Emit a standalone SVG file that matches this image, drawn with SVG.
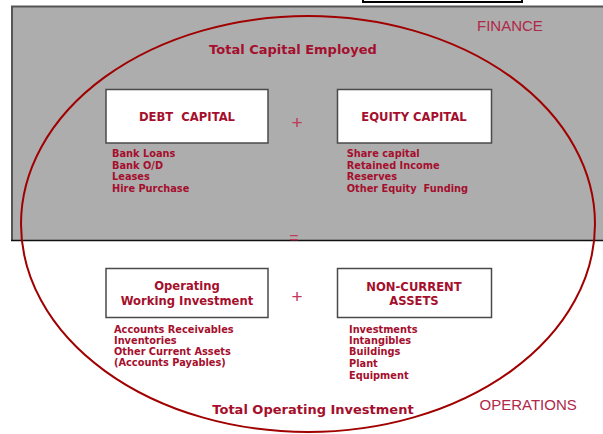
<svg xmlns="http://www.w3.org/2000/svg" width="603" height="434" viewBox="0 0 603 434">
<style>
.t{font-family:"DejaVu Sans",Verdana,sans-serif;font-weight:bold;fill:#a50f2d}
.title{font-size:11.6px;text-anchor:middle}
.item{font-size:9.8px}
.total{font-size:13px;text-anchor:middle}
.zone{font-family:"Liberation Sans",Arial,sans-serif;font-size:15px;fill:#b02848}
.op{font-family:"Liberation Sans",Arial,sans-serif;fill:#c03a5a;text-anchor:middle}
.box{fill:#ffffff;stroke:#4a4a4a;stroke-width:1.5}
</style>
<rect x="0" y="0" width="603" height="434" fill="#ffffff"/>
<g id="finance-area">
<rect x="12" y="6.5" width="600" height="234" fill="#adadad"/>
<path d="M12 240.5 V6.5 H603" fill="none" stroke="#555555" stroke-width="2"/>
<line x1="11" y1="240.5" x2="603" y2="240.5" stroke="#111111" stroke-width="1.6"/>
<text class="zone" x="477" y="31">FINANCE</text>
</g>
<rect x="363" y="-10" width="159" height="12" fill="#ffffff" stroke="#000000" stroke-width="2"/>
<ellipse cx="308" cy="224" rx="287" ry="208" fill="none" stroke="#a00000" stroke-width="2"/>
<g id="connectors"></g>
<text class="t total" x="293" y="54">Total Capital Employed</text>
<g id="debt-capital">
<rect class="box" x="106" y="89.5" width="162" height="53.5"/>
<text class="t title" x="187" y="120.7" xml:space="preserve">DEBT  CAPITAL</text>
<text class="t item" x="112" y="157.3">Bank Loans</text>
<text class="t item" x="112" y="168.8">Bank O/D</text>
<text class="t item" x="112" y="180.2">Leases</text>
<text class="t item" x="112" y="191.7">Hire Purchase</text>
</g>
<g id="equity-capital">
<rect class="box" x="337.5" y="89.5" width="154" height="53.5"/>
<text class="t title" x="414" y="120.7">EQUITY CAPITAL</text>
<text class="t item" x="346.7" y="157.3">Share capital</text>
<text class="t item" x="346.7" y="168.8">Retained Income</text>
<text class="t item" x="346.7" y="180.2">Reserves</text>
<text class="t item" x="346.7" y="191.7" xml:space="preserve">Other Equity  Funding</text>
</g>
<text class="op" x="297" y="128.5" font-size="19">+</text>
<text class="op" x="294" y="243" font-size="16">=</text>
<g id="operating-working-investment">
<rect class="box" x="106" y="268.5" width="162" height="49"/>
<text class="t title" x="187" y="290">Operating</text>
<text class="t title" x="187" y="305">Working Investment</text>
<text class="t item" x="114" y="332.7">Accounts Receivables</text>
<text class="t item" x="114" y="343.8">Inventories</text>
<text class="t item" x="114" y="355">Other Current Assets</text>
<text class="t item" x="114" y="366.3">(Accounts Payables)</text>
</g>
<text class="op" x="297" y="302.5" font-size="19">+</text>
<g id="non-current-assets">
<rect class="box" x="337.5" y="268.5" width="154" height="49"/>
<text class="t title" x="414" y="290.5">NON-CURRENT</text>
<text class="t title" x="414" y="305">ASSETS</text>
<text class="t item" x="349" y="332.7">Investments</text>
<text class="t item" x="349" y="343.8">Intangibles</text>
<text class="t item" x="349" y="355">Buildings</text>
<text class="t item" x="349" y="366.7">Plant</text>
<text class="t item" x="349" y="379">Equipment</text>
</g>
<text class="t total" x="313" y="414">Total Operating Investment</text>
<text class="zone" x="479.5" y="410">OPERATIONS</text>
</svg>
